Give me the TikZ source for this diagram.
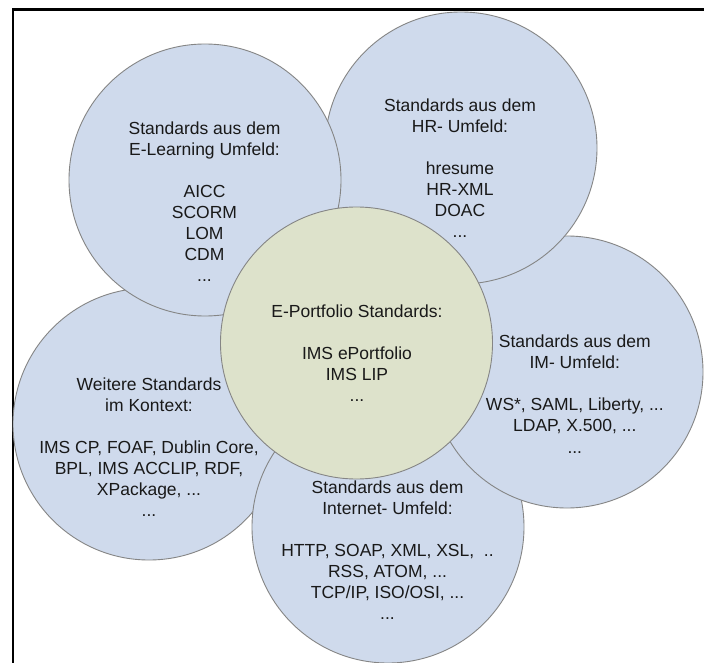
\documentclass[tikz,border=0pt]{standalone}
\usepackage{fontspec}
\setmainfont{Liberation Sans}
\usepackage{xcolor}

\definecolor{bubbleblue}{HTML}{CFDAEC}
\definecolor{bubblegreen}{HTML}{DDE2CB}
\definecolor{rimgray}{HTML}{858585}

\tikzset{
    bubble/.style={circle, draw=rimgray, line width=0.9pt, fill=bubbleblue,
        minimum size=272pt, inner sep=0pt},
    core/.style={bubble, fill=bubblegreen},
    blurb/.style={align=center, inner sep=0pt, text=black!90,
        font=\fontsize{17.5}{21.1}\selectfont},
}

\begin{document}
\begin{tikzpicture}[x=1pt, y=-1pt]
                    \useasboundingbox (0, 0) rectangle (704, 663);
                    \fill[white] (0, 0) rectangle (704, 663);

                    % frame, cut off at the right and at the bottom
                    \draw[line width=2.4pt]
                    (12.8, 670) -- (12.8, 9.5) -- (710, 9.5);

                    % outer circles, the later one lies on top
                    \node[bubble] (further) at (149, 424) {};
                    \node[bubble] (internet) at (388, 527) {};
                    \node[bubble] (im) at (567, 372) {};
                    \node[bubble] (hr) at (461, 148) {};
                    \node[bubble] (elearning) at (205, 180) {};

                    % circle in the middle
                    \node[core] (eport) at (356.5, 343) {};

                    \node[blurb] (elearningtext) at (204.5, 201.7)
                    {Standards aus dem\\E-Learning Umfeld:\\ \mbox{}\\AICC\\SCORM\\LOM\\CDM\\...};
                    \node[blurb] (hrtext) at (460, 168.3)
                    {Standards aus dem\\HR- Umfeld:\\ \mbox{}\\hresume\\HR-XML\\DOAC\\...};
                    \node[blurb] (imtext) at (574.8, 394)
                    {Standards aus dem\\IM- Umfeld:\\ \mbox{}\\WS*, SAML, Liberty, ...\\LDAP, X.500, ...\\...};
                    \node[blurb] (furthertext) at (149, 447)
                    {Weitere Standards\\im Kontext:\\ \mbox{}\\IMS CP, FOAF, Dublin Core,\\BPL, IMS ACCLIP, RDF,\\XPackage, ...\\...};
                    \node[blurb] (internettext) at (387.5, 550)
                    {Standards aus dem\\Internet- Umfeld:\\ \mbox{}\\HTTP, SOAP, XML, XSL,~~..\\RSS, ATOM, ...\\TCP/IP, ISO/OSI, ...\\...};
                    \node[blurb] (eporttext) at (357, 353)
                    {E-Portfolio Standards:\\ \mbox{}\\IMS ePortfolio\\IMS LIP\\...};
                \end{tikzpicture}
\end{document}
